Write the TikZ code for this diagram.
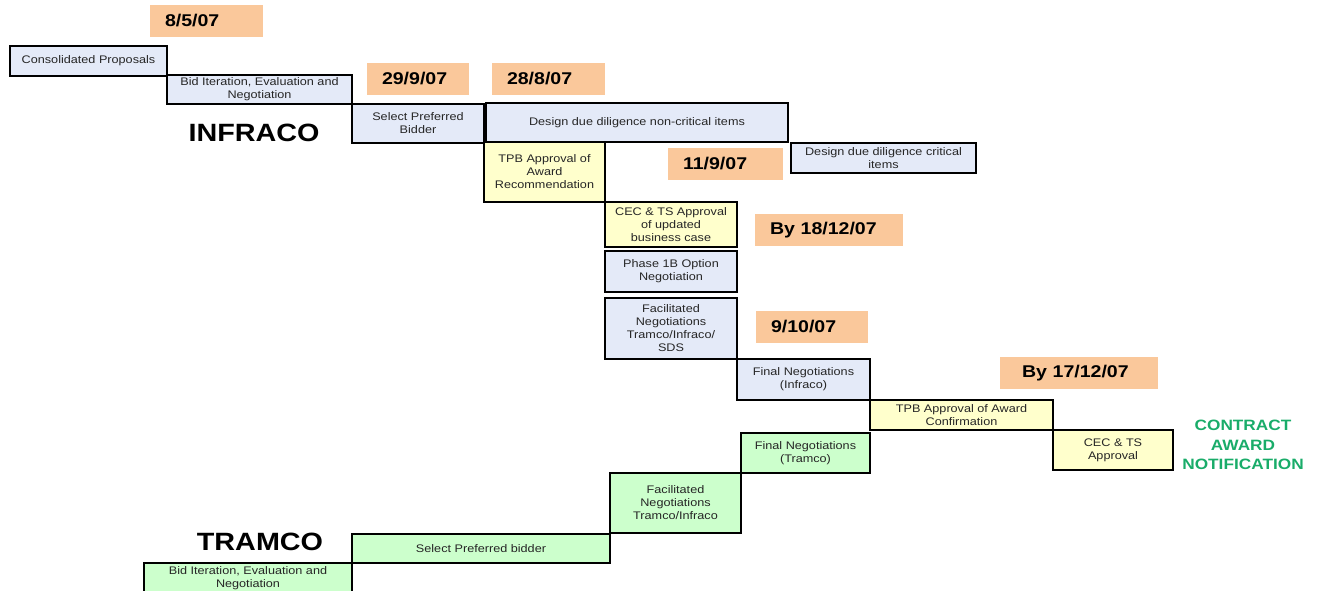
\documentclass[tikz,border=0pt]{standalone}
\usepackage{fontspec}
\setmainfont{Liberation Sans}[FakeStretch=1.15]
\usepackage{tikz}

\definecolor{infrablue}{RGB}{228,234,248}
\definecolor{appryellow}{RGB}{255,255,204}
\definecolor{tramgreen}{RGB}{204,255,204}
\definecolor{datepeach}{RGB}{250,200,155}
\definecolor{awardgreen}{RGB}{25,172,105}

\begin{document}
\begin{tikzpicture}[x=1pt, y=-1pt, outer sep=0pt]
\useasboundingbox (0,0) rectangle (1319,591);

\tikzstyle{task}=[draw, line width=1.8pt, rectangle, anchor=north west, align=center, inner sep=0pt, text=black!85, font=\fontsize{11}{13}\selectfont]
\tikzstyle{infra}=[task, fill=infrablue]
\tikzstyle{appr}=[task, fill=appryellow]
\tikzstyle{tram}=[task, fill=tramgreen]
\tikzstyle{date}=[fill=datepeach, rectangle, anchor=north west, minimum height=32pt, inner xsep=15pt, inner ysep=0pt, align=left, font=\fontsize{17}{20}\selectfont\bfseries]
\tikzstyle{party}=[font=\fontsize{25}{28}\selectfont\bfseries]

% dates
\node[date, text width=83pt] (d1) at (150,5) {8/5/07}; \node[date, text width=72pt] (d2) at (367,63) {29/9/07}; \node[date, text width=83pt] (d3) at (492,63) {28/8/07};
\node[date, text width=85pt] (d4) at (668,148) {11/9/07}; \node[date, text width=118pt] (d5) at (755,214) {By 18/12/07}; \node[date, text width=82pt] (d6) at (756,311) {9/10/07};
\node[date, inner xsep=22pt, text width=114pt] (d7) at (1000,357) {By 17/12/07};

% infraco steps
\node[infra, minimum width=157pt, minimum height=30pt] (cons) at (10,46) {Consolidated Proposals};
\node[infra, minimum width=185pt, minimum height=29pt] (bidI) at (167,75) {Bid Iteration, Evaluation and\\Negotiation};
\node[infra, minimum width=132pt, minimum height=39pt] (selI) at (352,104) {Select Preferred\\Bidder};
\node[infra, minimum width=302pt, minimum height=39pt] (ddnc) at (486,103) {Design due diligence non-critical items};
\node[appr, minimum width=121pt, minimum height=60pt] (tpbR) at (484,142) {TPB Approval of\\Award\\Recommendation};
\node[infra, minimum width=185pt, minimum height=30pt] (ddc) at (791,143) {Design due diligence critical\\items};
\node[appr, minimum width=132pt, minimum height=45pt] (cecU) at (605,202) {CEC \& TS Approval\\of updated\\business case};
\node[infra, minimum width=132pt, minimum height=41pt] (phase) at (605,251) {Phase 1B Option\\Negotiation};
\node[infra, minimum width=132pt, minimum height=61pt] (facI) at (605,298) {Facilitated\\Negotiations\\Tramco/Infraco/\\SDS};
\node[infra, minimum width=133pt, minimum height=41pt] (finI) at (737,359) {Final Negotiations\\(Infraco)};
\node[appr, minimum width=183pt, minimum height=30pt] (tpbC) at (870,400) {TPB Approval of Award\\Confirmation};
\node[appr, minimum width=120pt, minimum height=40pt] (cecA) at (1053,430) {CEC \& TS\\Approval};

% tramco steps
\node[tram, minimum width=129pt, minimum height=40pt] (finT) at (741,433) {Final Negotiations\\(Tramco)};
\node[tram, minimum width=131pt, minimum height=60pt] (facT) at (610,473) {Facilitated\\Negotiations\\Tramco/Infraco};
\node[tram, minimum width=258pt, minimum height=29pt] (selT) at (352,534) {Select Preferred bidder};
\node[tram, minimum width=208pt, minimum height=31pt] (bidT) at (144,563) {Bid Iteration, Evaluation and\\Negotiation};

\node[party] (infraco) at (254,133) {INFRACO};
\node[party] (tramco) at (260,542) {TRAMCO};
\node[align=center, text=awardgreen, font=\fontsize{15}{19.5}\selectfont\bfseries] (award) at (1243,445) {CONTRACT\\AWARD\\NOTIFICATION};

\end{tikzpicture}
\end{document}
